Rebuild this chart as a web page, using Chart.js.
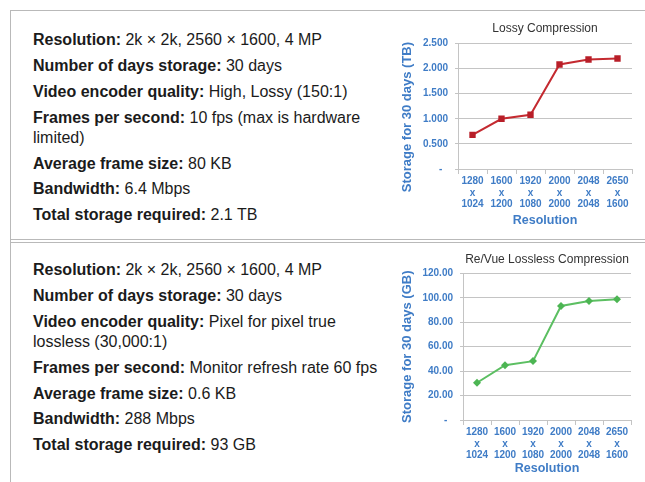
<!DOCTYPE html>
<html>
<head>
<meta charset="utf-8">
<script src="https://cdn.jsdelivr.net/npm/chart.js@4.4.0/dist/chart.umd.min.js"></script>
<style>
  html, body { margin: 0; padding: 0; background: #fff; }
  body { width: 645px; height: 482px; position: relative; overflow: hidden; font-family: 'Liberation Sans', Arial, sans-serif; }
  .linha { position: absolute; background: #b9b9b9; }
  .specs { position: absolute; left: 33px; font-size: 16px; color: #1b1b1b; line-height: 20px; white-space: nowrap; }
  .specs p { margin: 0 0 5.9px 0; }
  canvas { position: absolute; }
</style>
</head>
<body>
<!-- molduras -->
<div class="linha" style="left:10px; top:10px; width:635px; height:1px"></div>
<div class="linha" style="left:10px; top:10px; width:1px; height:472px"></div>
<div class="linha" style="left:10px; top:239px; width:635px; height:1px"></div>
<div class="linha" style="left:10px; top:242px; width:635px; height:1px"></div>

<div class="specs" style="top:30px">
  <p><b>Resolution:</b> 2k × 2k, 2560 × 1600, 4 MP</p>
  <p><b>Number of days storage:</b> 30 days</p>
  <p><b>Video encoder quality:</b> High, Lossy (150:1)</p>
  <p><b>Frames per second:</b> 10 fps (max is hardware<br>limited)</p>
  <p><b>Average frame size:</b> 80 KB</p>
  <p><b>Bandwidth:</b> 6.4 Mbps</p>
  <p><b>Total storage required:</b> 2.1 TB</p>
</div>

<div class="specs" style="top:260px">
  <p><b>Resolution:</b> 2k × 2k, 2560 × 1600, 4 MP</p>
  <p><b>Number of days storage:</b> 30 days</p>
  <p><b>Video encoder quality:</b> Pixel for pixel true<br>lossless (30,000:1)</p>
  <p><b>Frames per second:</b> Monitor refresh rate 60 fps</p>
  <p><b>Average frame size:</b> 0.6 KB</p>
  <p><b>Bandwidth:</b> 288 Mbps</p>
  <p><b>Total storage required:</b> 93 GB</p>
</div>

<canvas id="lossyChart" width="242" height="222" style="left:398px; top:12px"></canvas>
<canvas id="losslessChart" width="242" height="236" style="left:398px; top:244px"></canvas>

<script>
const resolutionLabels = [
    ['1280', 'x', '1024'],
    ['1600', 'x', '1200'],
    ['1920', 'x', '1080'],
    ['2000', 'x', '2000'],
    ['2048', 'x', '2048'],
    ['2650', 'x', '1600']
];
const lossyStorageTB = [0.68, 1.00, 1.08, 2.08, 2.18, 2.20];
const losslessStorageGB = [30.5, 44.9, 48.2, 93.3, 97.4, 98.8];
const lossyTicks = [0, 0.5, 1.0, 1.5, 2.0, 2.5];
const losslessTicks = [0, 20, 40, 60, 80, 100, 120];

const FONTE = "'Liberation Sans', Arial, sans-serif";
const AZUL = '#3f7cc6';
const CINZA = '#c4c4c4';

function criarGrafico(id, cfg) {
    const ctx = document.getElementById(id)?.getContext('2d');
    if (!ctx) return;

    const ticks = cfg.ticks;
    return new Chart(ctx, {
        type: 'line',
        data: {
            labels: resolutionLabels,
            datasets: [{
                data: cfg.valores,
                borderColor: cfg.corLinha,
                backgroundColor: cfg.corMarcador,
                borderWidth: 2,
                pointStyle: cfg.marcador,
                pointRadius: cfg.raio,
                pointBorderWidth: 0,
                tension: 0
            }]
        },
        options: {
            responsive: false,
            animation: false,
            layout: { padding: { left: 0, right: cfg.padDireita, top: 0, bottom: 0 } },
            plugins: {
                legend: { display: false },
                tooltip: { enabled: false },
                title: {
                    display: true,
                    text: cfg.titulo,
                    fullSize: false,
                    color: '#333',
                    font: { family: FONTE, size: 12, weight: 'normal' },
                    padding: { top: cfg.tituloTopo, bottom: cfg.tituloBaixo }
                }
            },
            scales: {
                x: {
                    offset: true,
                    grid: { offset: true, drawOnChartArea: false, tickLength: 5, color: CINZA },
                    border: { color: CINZA },
                    ticks: {
                        color: AZUL,
                        autoSkip: false,
                        maxRotation: 0,
                        padding: 2,
                        font: { family: FONTE, size: 10, weight: 'bold', lineHeight: 1.13 }
                    },
                    title: {
                        display: true,
                        text: 'Resolution',
                        color: AZUL,
                        font: { family: FONTE, size: 12.5, weight: 'bold' },
                        padding: { top: 0, bottom: cfg.tituloXBaixo }
                    },
                    afterFit: (escala) => { escala.height = cfg.alturaX; }
                },
                y: {
                    min: ticks[0],
                    max: ticks[ticks.length - 1],
                    grid: { color: CINZA, tickLength: 3 },
                    border: { color: CINZA },
                    ticks: {
                        stepSize: ticks[1] - ticks[0],
                        color: AZUL,
                        padding: 7,
                        font: { family: FONTE, size: 10, weight: 'bold' },
                        callback: (valor) => valor === 0 ? '-  ' : valor.toFixed(cfg.casas)
                    },
                    title: {
                        display: true,
                        text: cfg.tituloY,
                        color: AZUL,
                        font: { family: FONTE, size: 13, weight: 'bold' },
                        padding: { top: 2, bottom: 0 }
                    },
                    afterFit: (escala) => { escala.width = cfg.larguraY; }
                }
            }
        }
    });
}

criarGrafico('lossyChart', {
    titulo: 'Lossy Compression',
    // espaços no fim empurram o título um pouco para baixo, como no original
    tituloY: 'Storage for 30 days (TB)      ',
    valores: lossyStorageTB,
    ticks: lossyTicks,
    casas: 3,
    corLinha: '#c42a30',
    corMarcador: '#b81e28',
    marcador: 'rect',
    raio: 4.5,
    padDireita: 8,
    tituloTopo: 9,
    tituloBaixo: 8,
    alturaX: 65,
    tituloXBaixo: 5.5,
    larguraY: 60
});

criarGrafico('losslessChart', {
    titulo: 'Re/Vue Lossless Compression',
    tituloY: 'Storage for 30 days (GB)',
    valores: losslessStorageGB,
    ticks: losslessTicks,
    casas: 2,
    corLinha: '#5cbf62',
    corMarcador: '#4cb553',
    marcador: 'rectRot',
    raio: 4,
    padDireita: 9,
    tituloTopo: 8,
    tituloBaixo: 7,
    alturaX: 60,
    tituloXBaixo: 3.5,
    larguraY: 65
});
</script>
</body>
</html>
